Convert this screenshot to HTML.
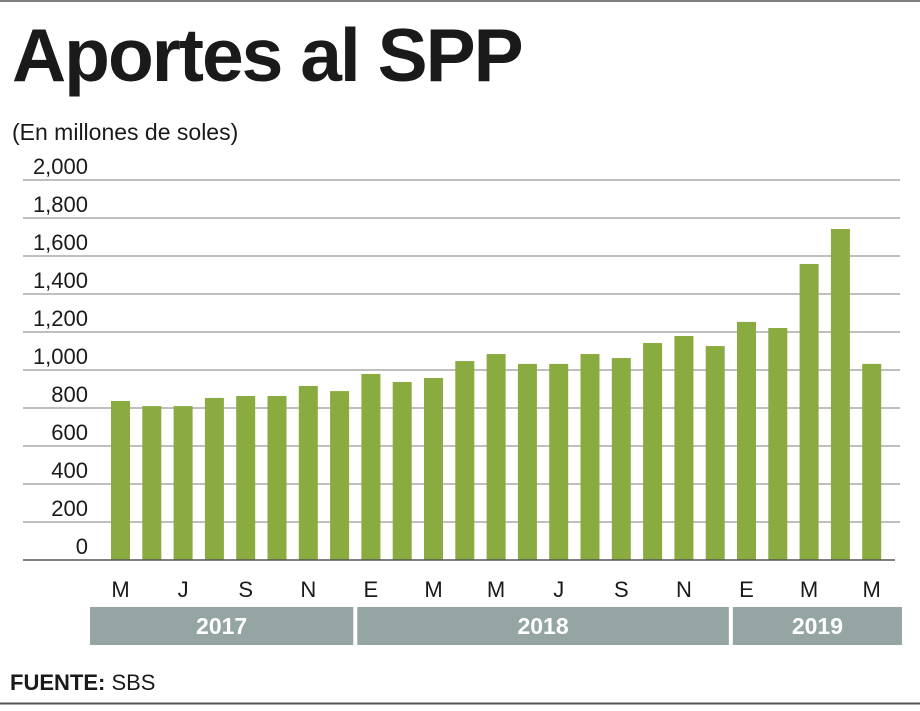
<!DOCTYPE html>
<html><head><meta charset="utf-8"><style>
body{margin:0;background:#fff;width:920px;height:706px;overflow:hidden;font-family:"Liberation Sans",sans-serif}
</style></head><body>
<svg width="920" height="706" xmlns="http://www.w3.org/2000/svg">
<line x1="0" y1="1" x2="920" y2="1" stroke="#555" stroke-width="1.5"/>
<line x1="0" y1="703.5" x2="920" y2="703.5" stroke="#555" stroke-width="2"/>
<text x="12" y="81" font-size="75" font-weight="bold" fill="#1a1a1a" letter-spacing="-2">Aportes al SPP</text>
<text x="12" y="140" font-size="23" fill="#1a1a1a">(En millones de soles)</text>
<g id="grid"></g><g id="bars"></g><g id="xlabels"></g><g id="years"></g>
<text x="10" y="690" font-size="22" fill="#1a1a1a"><tspan font-weight="bold">FUENTE:</tspan> SBS</text>
</svg>
<script>
const values=[837,810,810,853,863,863,916,889,979,937,958,1047,1084,1032,1032,1084,1063,1142,1179,1126,1253,1221,1558,1742,1032];
const monthLabels=["M","","J","","S","","N","","E","","M","","M","","J","","S","","N","","E","","M","","M"];
const yTicks=[0,200,400,600,800,1000,1200,1400,1600,1800,2000];
const years=[{label:"2017",from:0,to:7},{label:"2018",from:8,to:19},{label:"2019",from:20,to:24}];
const NS="http://www.w3.org/2000/svg";
const y0=560,pxPer=0.19,x0=120.5,step=31.3,bw=19;
const y=v=>y0-v*pxPer, x=i=>x0+i*step;
function mk(tag,attrs,parent){const e=document.createElementNS(NS,tag);for(const k in attrs)e.setAttribute(k,attrs[k]);parent.appendChild(e);return e;}
const g=document.getElementById('grid');
yTicks.forEach(t=>{
 if(t>0){const l=mk('line',{x1:23,x2:900,y1:y(t),y2:y(t),stroke:'#999','stroke-width':1.2},g);
 
 }
 const tx=mk('text',{x:88,y:y(t)-6,'font-size':22,fill:'#1a1a1a','text-anchor':'end'},g);
 tx.textContent=t.toLocaleString('en-US');
 
 
});
const b=document.getElementById('bars');
values.forEach((v,i)=>{
 const r=mk('rect',{x:x(i)-bw/2,y:y(v),width:bw,height:v*pxPer,fill:'#8aab3f'},b);
 
 
});
const base=mk('line',{x1:23,x2:895,y1:y0,y2:y0,stroke:'#555','stroke-width':1.5},b);


const xl=document.getElementById('xlabels');
monthLabels.forEach((m,i)=>{if(!m)return;
 const t=mk('text',{x:x(i),y:597,'font-size':22,fill:'#1a1a1a','text-anchor':'middle'},xl);
 t.textContent=m;
 
 
});
const yg=document.getElementById('years');
years.forEach((yr,k)=>{
 const l=k==0?90:x(yr.from)-step/2+2, r=k==years.length-1?902:x(yr.to)+step/2-2;
 const rc=mk('rect',{x:l,y:607,width:r-l,height:38,fill:'#94a5a3'},yg);
 
 
 const t=mk('text',{x:(l+r)/2,y:634,'font-size':23,'font-weight':'bold',fill:'#fff','text-anchor':'middle'},yg);
 t.textContent=yr.label;
 
 
});
</script>
</body></html>
